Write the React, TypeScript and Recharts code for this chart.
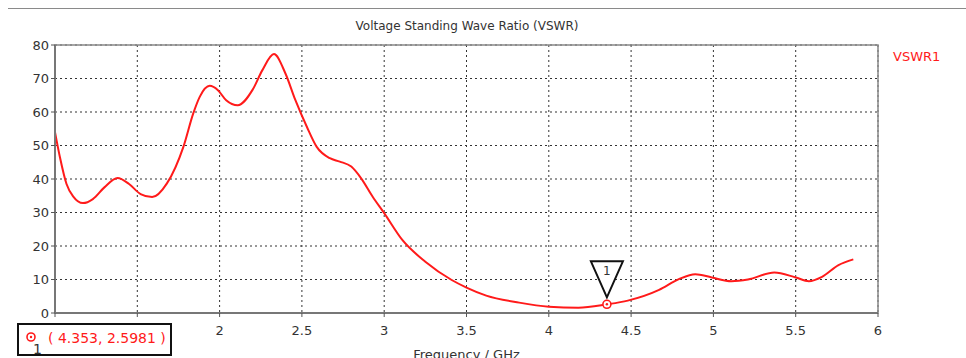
import React from 'react';
import { LineChart, Line, XAxis, YAxis, CartesianGrid, Legend, ReferenceDot, ReferenceArea } from 'recharts';

// frequency in GHz
const freq = [
  1.0, 1.03, 1.07, 1.11, 1.17, 1.23, 1.3, 1.38, 1.45, 1.52, 1.59, 1.68, 1.78, 1.84, 1.88,
  1.94, 1.99, 2.04, 2.11, 2.2, 2.26, 2.33, 2.4, 2.46, 2.53, 2.59, 2.67, 2.73, 2.8, 2.86,
  2.93, 3.0, 3.11, 3.25, 3.41, 3.5, 3.62, 3.82, 4.0, 4.18, 4.353, 4.48, 4.67, 4.79, 4.89,
  4.99, 5.11, 5.21, 5.37, 5.5, 5.58, 5.66, 5.76, 5.85,
];
const vswr = [
  54, 46.5, 38.5, 34.8, 32.8, 34, 37.5, 40.3, 38.5, 35.5, 34.6, 38.7, 49.6, 59.6, 64.6,
  67.8, 66.5, 63.5, 62, 66.6, 72.5, 77.3, 71.5, 63.6, 55.6, 49.6, 46.2, 45.2, 43.7, 40.2,
  34.7, 29.8, 21.8, 15.3, 9.85, 7.6, 5.2, 3.1, 1.9, 1.6, 2.5981, 3.7, 6.9, 10.1, 11.6,
  10.6, 9.5, 10.0, 12.1, 10.6, 9.5, 10.8, 14.3, 16.0,
];
const xTicks = [1, 1.5, 2, 2.5, 3, 3.5, 4, 4.5, 5, 5.5, 6];
// labels for 1 and 1.5 sit under the marker readout box in the original
const hiddenXLabels = [1, 1.5];
const yTicks = [0, 10, 20, 30, 40, 50, 60, 70, 80];
const markerX = 4.353;
const markerY = 2.5981;

const data = freq.map((f, i) => ({ f, v: vswr[i] }));

const FONT = '"DejaVu Sans", Verdana, sans-serif';
const RED = '#ff1a1a';

const MarkerShape = (props: any) => {
  const { cx, cy } = props;
  if (cx == null || cy == null) return null;
  return (
    <g>
      <path
        d={`M${cx - 16},${cy - 43} L${cx + 16},${cy - 43} L${cx},${cy - 7} Z`}
        fill="#fff"
        stroke="#111"
        strokeWidth={2}
        strokeLinejoin="miter"
      />
      <text x={cx} y={cy - 29} textAnchor="middle" fontSize={12} fontFamily={FONT} fill="#333">
        1
      </text>
      <circle cx={cx} cy={cy} r={4} fill="#fff" stroke={RED} strokeWidth={1.6} />
      <circle cx={cx} cy={cy} r={1.2} fill={RED} />
    </g>
  );
};

export default function App() {
  return (
    <div style={{ position: 'absolute', left: 0, top: 0, width: 966, height: 358, background: '#fff', overflow: 'hidden' }}>
      <div style={{ position: 'absolute', left: 8, right: 0, top: 8, height: 1, background: '#8a8a8a' }} />
      <div
        style={{
          position: 'absolute', left: 0, width: 934, top: 19, textAlign: 'center',
          fontFamily: FONT, fontSize: 12, color: '#333',
        }}
      >
        Voltage Standing Wave Ratio (VSWR)
      </div>
      <LineChart width={966} height={358} data={data} margin={{ top: 45, right: 28, left: 15, bottom: 15 }}>
        <CartesianGrid stroke="#333" strokeDasharray="2 3" strokeWidth={1} />
        <ReferenceArea x1={1} x2={6} y1={0} y2={80} fill="none" stroke="#888" strokeWidth={1.5} />
        <XAxis
          dataKey="f"
          type="number"
          domain={[1, 6]}
          ticks={xTicks}
          interval={0}
          height={30}
          axisLine={{ stroke: '#777', strokeWidth: 2 }}
          tickLine={{ stroke: '#555' }}
          tickSize={4}
          tickFormatter={(t: number) => (hiddenXLabels.includes(t) ? '' : String(t))}
          tick={{ fontSize: 13, fontFamily: FONT, fill: '#333' }}
          tickMargin={9}
          label={{ value: 'Frequency / GHz', position: 'insideBottom', offset: -16, fontSize: 13, fontFamily: FONT, fill: '#333' }}
        />
        <YAxis
          type="number"
          domain={[0, 80]}
          ticks={yTicks}
          interval={0}
          width={40}
          axisLine={{ stroke: '#777', strokeWidth: 2 }}
          tickLine={{ stroke: '#555' }}
          tickSize={4}
          tick={{ fontSize: 13, fontFamily: FONT, fill: '#333' }}
        />
        <Legend
          layout="vertical"
          align="right"
          verticalAlign="top"
          wrapperStyle={{ top: 49, right: 13, width: 60 }}
          content={() => (
            <div style={{ fontFamily: FONT, fontSize: 13, color: RED }}>VSWR1</div>
          )}
        />
        <Line
          type="monotone"
          dataKey="v"
          stroke={RED}
          strokeWidth={2}
          dot={false}
          isAnimationActive={false}
        />
        <ReferenceDot x={markerX} y={markerY} shape={MarkerShape} />
      </LineChart>
      <div
        style={{
          position: 'absolute', left: 17, top: 323, width: 151, height: 29,
          border: '2px solid #111', background: '#fff', fontFamily: FONT, fontSize: 14, color: RED,
        }}
      >
        <svg width={24} height={29} style={{ position: 'absolute', left: 4, top: 0 }}>
          <circle cx={8} cy={12} r={4} fill="#fff" stroke={RED} strokeWidth={1.6} />
          <circle cx={8} cy={12} r={1.2} fill={RED} />
          <text x={10} y={29} fontSize={14} fontFamily={FONT} fill="#333">1</text>
        </svg>
        <span style={{ position: 'absolute', left: 29, top: 5, whiteSpace: 'nowrap' }}>( {markerX}, {markerY} )</span>
      </div>
    </div>
  );
}
